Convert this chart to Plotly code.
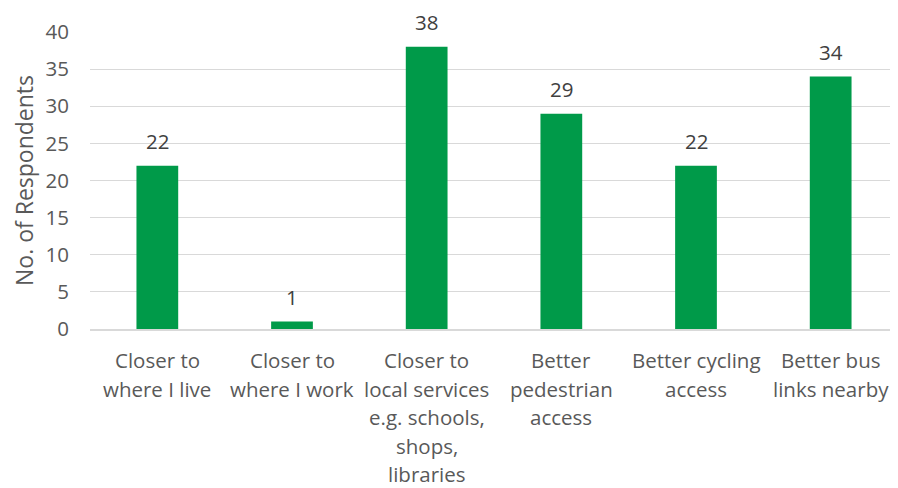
import plotly.graph_objects as go

categories = ["Closer to where I live", "Closer to where I work",
              "Closer to local services e.g. schools, shops, libraries",
              "Better pedestrian access", "Better cycling access", "Better bus links nearby"]
label_lines = [
    ["Closer to", "where I live"],
    ["Closer to", "where I work"],
    ["Closer to", "local services", "e.g. schools,", "shops,", "libraries"],
    ["Better", "pedestrian", "access"],
    ["Better cycling", "access"],
    ["Better bus", "links nearby"],
]
values = [22, 1, 38, 29, 22, 34]
y_ticks = [0, 5, 10, 15, 20, 25, 30, 35, 40]

FONT = "Open Sans"
TXT = "#595959"
FS = 20.5

fig = go.Figure(go.Bar(
    x=categories, y=values,
    marker=dict(color="#009A49", line=dict(width=0)),
    cliponaxis=False, width=0.31,
))

annotations = []
for cat, v in zip(categories, values):
    annotations.append(dict(
        x=cat, y=v, xref="x", yref="y", text=str(v), showarrow=False,
        yshift=25, yanchor="middle",
        font=dict(family=FONT, size=FS, color="#404040"),
    ))
for cat, lines in zip(categories, label_lines):
    for i, line in enumerate(lines):
        annotations.append(dict(
            x=cat, y=0, xref="x", yref="y", text=line, showarrow=False,
            yshift=-(31 + 28.6 * i), yanchor="middle", borderpad=0,
            font=dict(family=FONT, size=FS, color=TXT),
        ))

# page body has an 8px margin, so the figure is sized 8px smaller
fig.update_layout(
    width=890, height=480,
    margin=dict(l=82, r=0, t=24, b=159, autoexpand=False),
    paper_bgcolor="white", plot_bgcolor="white",
    showlegend=False,
    annotations=annotations,
    xaxis=dict(showticklabels=False, showgrid=False, showline=True, automargin=False,
               linecolor="#D9D9D9", linewidth=1.5, ticks="", range=[-0.5, 5.5]),
    yaxis=dict(range=[0, 40], tickvals=y_ticks, showgrid=True, gridcolor="#D9D9D9",
               gridwidth=1.3, zeroline=False, showline=False, ticks="", automargin=False,
               ticklabelstandoff=20,
               tickfont=dict(family=FONT, size=FS, color=TXT),
               title=dict(text="No. of Respondents", standoff=19,
                          font=dict(family=FONT, size=23, color=TXT))),
)

fig.write_html("out.html")
